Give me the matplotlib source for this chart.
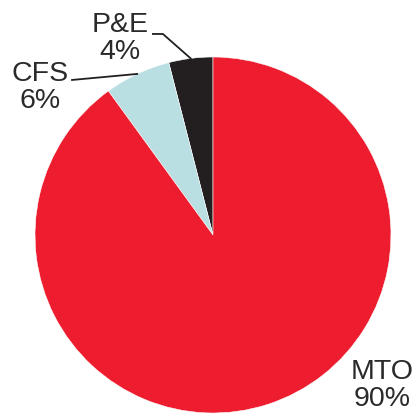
import numpy as np
import matplotlib.pyplot as plt

plt.rcParams['font.family'] = ['Liberation Sans', 'DejaVu Sans']

labels = ["P&E", "CFS", "MTO"]
shares = [4, 6, 90]
colors = ["#231F20", "#B9DFE3", "#ED1C2E"]

fig = plt.figure(figsize=(4.18, 4.15), dpi=100)
ax = fig.add_axes([0, 0, 1, 1])
ax.pie(shares, colors=colors, startangle=90, counterclock=True, radius=1,
       wedgeprops=dict(edgecolor="white", linewidth=0.4))
ax.set_xlim(-1.1966, 1.1517)
ax.set_ylim(-1.0112, 1.3202)
ax.set_aspect("auto")
ax.axis("off")

# mid angles of slices
ang = 90 + 3.6 * (np.cumsum(shares) - np.array(shares) / 2)

def pt(a, r):
    t = np.deg2rad(a)
    return r * np.cos(t), r * np.sin(t)

fs = 20.5
tc = "#2a2a2a"
# P&E leader
x0, y0 = pt(ang[0], 1.0)
x1, y1 = pt(104, 1.164)
ax.plot([x0, x1, x1 - 0.056], [y0, y1, y1], color="#231F20", lw=1.3)
ax.text(-0.522, 1.105, "P&E\n4%", fontsize=fs, ha="center", va="center",
        color=tc, linespacing=1.05)

# CFS leader
x0, y0 = pt(ang[1], 1.0)
ax.plot([x0, -0.792], [y0, 0.871], color="#231F20", lw=1.3)
ax.text(-0.972, 0.829, "CFS\n6%", fontsize=fs, ha="center", va="center",
        color=tc, linespacing=1.05)

ax.text(0.949, -0.843, "MTO\n90%", fontsize=fs, ha="center", va="center",
        color=tc, linespacing=1.05)

fig.savefig("out.png", dpi=100)
